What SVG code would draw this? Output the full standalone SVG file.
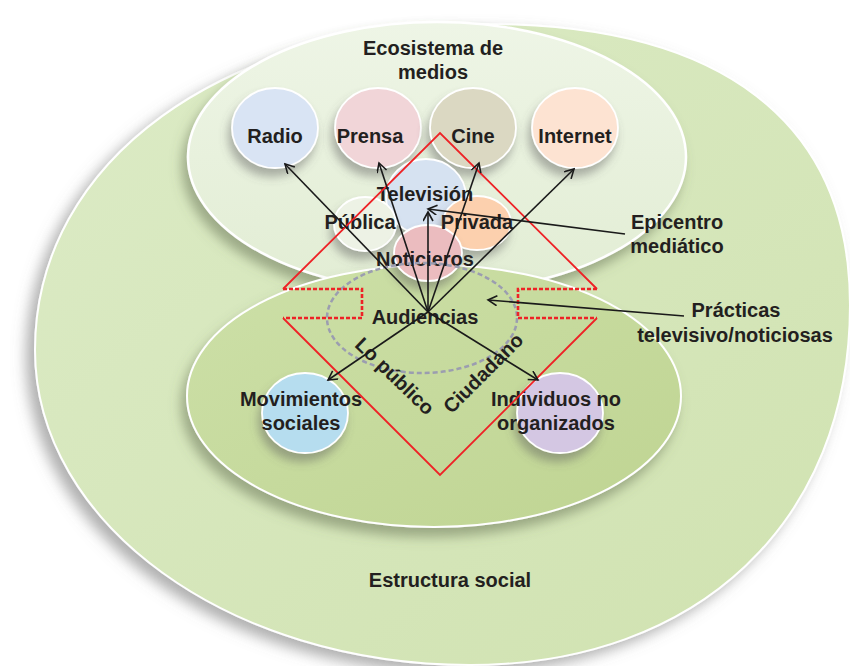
<svg xmlns="http://www.w3.org/2000/svg" width="850" height="666" viewBox="0 0 850 666">
<defs>
<style>
text{font-family:"Liberation Sans",Arial,sans-serif;font-weight:bold;font-size:20px;fill:#231f20}
.lbl{text-anchor:middle}
.arrow{fill:none;stroke:#1a1a1a;stroke-width:1.6;marker-end:url(#ah)}
.red{fill:none;stroke:#ee2226;stroke-width:1.8}
.reddash{fill:none;stroke:#ee2226;stroke-width:2.6;stroke-dasharray:4 2}
.bub{stroke:#ffffff;stroke-width:1.8;filter:url(#shs)}
</style>
<marker id="ah" markerWidth="12" markerHeight="12" refX="10" refY="5" orient="auto" markerUnits="userSpaceOnUse">
<path d="M1,0 L10,5 L1,10" fill="none" stroke="#1a1a1a" stroke-width="1.6"/>
</marker>
<filter id="shl" x="-20%" y="-20%" width="140%" height="140%">
<feDropShadow dx="-8" dy="7" stdDeviation="7" flood-color="#6e6e6e" flood-opacity="0.55"/>
</filter>
<filter id="shm" x="-20%" y="-20%" width="140%" height="150%">
<feDropShadow dx="-5" dy="9" stdDeviation="6" flood-color="#5f6b50" flood-opacity="0.5"/>
</filter>
<filter id="shs" x="-30%" y="-30%" width="160%" height="170%">
<feDropShadow dx="-3" dy="8" stdDeviation="5" flood-color="#5a5a5a" flood-opacity="0.45"/>
</filter>
<linearGradient id="gOuter" x1="0" y1="0" x2="1" y2="1">
<stop offset="0" stop-color="#dcebc6"/>
<stop offset="1" stop-color="#d0e2b0"/>
</linearGradient>
<linearGradient id="gTop" x1="0" y1="0" x2="0" y2="1">
<stop offset="0" stop-color="#eef5e6"/>
<stop offset="1" stop-color="#e2edd4"/>
</linearGradient>
<linearGradient id="gBot" x1="0" y1="0" x2="1" y2="1">
<stop offset="0" stop-color="#cde0a8"/>
<stop offset="1" stop-color="#bfd492"/>
</linearGradient>
</defs>
<rect width="850" height="666" fill="#ffffff"/>

<g id="estructura-social">
<path d="M485,24 C722,24 850,122 850,305 C850,521 698,665 470,665 C230,665 35,524 35,350 C35,161 224,24 485,24 Z" fill="url(#gOuter)" stroke="#ffffff" stroke-width="2" filter="url(#shl)"/>
<text class="lbl" x="450" y="587">Estructura social</text>
</g>

<g id="ecosistema-medios">
<ellipse cx="437" cy="157" rx="249" ry="135" fill="url(#gTop)" stroke="#ffffff" stroke-width="2.5" filter="url(#shm)"/>
<text class="lbl" x="433" y="55">Ecosistema de</text>
<text class="lbl" x="433" y="79">medios</text>
</g>

<g id="base-social">
<ellipse cx="434" cy="396" rx="247" ry="131" fill="url(#gBot)" stroke="#ffffff" stroke-width="2" filter="url(#shm)"/>
</g>

<g id="radio">
<ellipse class="bub" cx="275" cy="128" rx="43" ry="40" fill="#d9e4f4"/>
<text class="lbl" x="275" y="143">Radio</text>
</g>
<g id="prensa">
<ellipse class="bub" cx="378" cy="128" rx="43" ry="40" fill="#f1d5d8"/>
<text class="lbl" x="370" y="143">Prensa</text>
</g>
<g id="cine">
<ellipse class="bub" cx="473" cy="128" rx="43" ry="40" fill="#dbd8c2"/>
<text class="lbl" x="473" y="143">Cine</text>
</g>
<g id="internet">
<ellipse class="bub" cx="575" cy="128" rx="43" ry="40" fill="#fde3d2"/>
<text class="lbl" x="575" y="143">Internet</text>
</g>

<g id="television">
<ellipse class="bub" cx="426" cy="197" rx="40" ry="38" fill="#d6e2f1"/>
</g>
<g id="publica">
<ellipse class="bub" cx="365" cy="224" rx="31" ry="27" fill="#edf2e5"/>
</g>
<g id="privada">
<ellipse class="bub" cx="477" cy="223" rx="34" ry="27" fill="#fcd0ae"/>
</g>
<g id="noticieros">
<ellipse class="bub" cx="428" cy="253" rx="34" ry="28" fill="#ebbcbf"/>
</g>
<g id="tv-labels">
<text class="lbl" x="425" y="201">Televisión</text>
<text class="lbl" x="360" y="229">Pública</text>
<text class="lbl" x="477" y="229">Privada</text>
<text class="lbl" x="425" y="266">Noticieros</text>
</g>

<g id="audiencias">
<ellipse cx="422" cy="318" rx="95" ry="55" fill="none" stroke="#9b9db0" stroke-width="2.5" stroke-dasharray="5 3"/>
<text class="lbl" x="425" y="324">Audiencias</text>
</g>

<g id="movimientos-sociales">
<ellipse class="bub" cx="305" cy="413" rx="43" ry="40" fill="#b6ddef"/>
<text class="lbl" x="301" y="406">Movimientos</text>
<text class="lbl" x="301" y="430">sociales</text>
</g>
<g id="individuos">
<ellipse class="bub" cx="560" cy="413" rx="43" ry="40" fill="#d4c7e3"/>
<text class="lbl" x="556" y="406">Individuos no</text>
<text class="lbl" x="556" y="430">organizados</text>
</g>

<g id="marco-rojo">
<path class="red" d="M283,289 L440,133 L597,289"/>
<path class="red" d="M283,318 L440,475 L597,318"/>
<path class="reddash" d="M283,289 L362,289 L362,318 L283,318"/>
<path class="reddash" d="M597,289 L518,289 L518,318 L597,318"/>
<text class="lbl" transform="translate(390,381) rotate(44)">Lo público</text>
<text class="lbl" transform="translate(488,378) rotate(-45)">Ciudadano</text>
</g>

<g id="epicentro">
<text class="lbl" x="677" y="229">Epicentro</text>
<text class="lbl" x="677" y="253">mediático</text>
</g>
<g id="practicas">
<text class="lbl" x="736" y="317">Prácticas</text>
<text class="lbl" x="735" y="342">televisivo/noticiosas</text>
</g>

<g id="connectors">
<line class="arrow" x1="428" y1="312" x2="285" y2="164"/>
<line class="arrow" x1="428" y1="312" x2="379" y2="163"/>
<line class="arrow" x1="428" y1="312" x2="479" y2="163"/>
<line class="arrow" x1="428" y1="312" x2="574" y2="169"/>
<line class="arrow" x1="428" y1="312" x2="428" y2="212"/>
<line class="arrow" x1="428" y1="312" x2="328" y2="380"/>
<line class="arrow" x1="428" y1="312" x2="538" y2="380"/>
<line class="arrow" x1="625" y1="234" x2="428" y2="209"/>
<line class="arrow" x1="684" y1="316" x2="488" y2="300"/>
</g>
</svg>
